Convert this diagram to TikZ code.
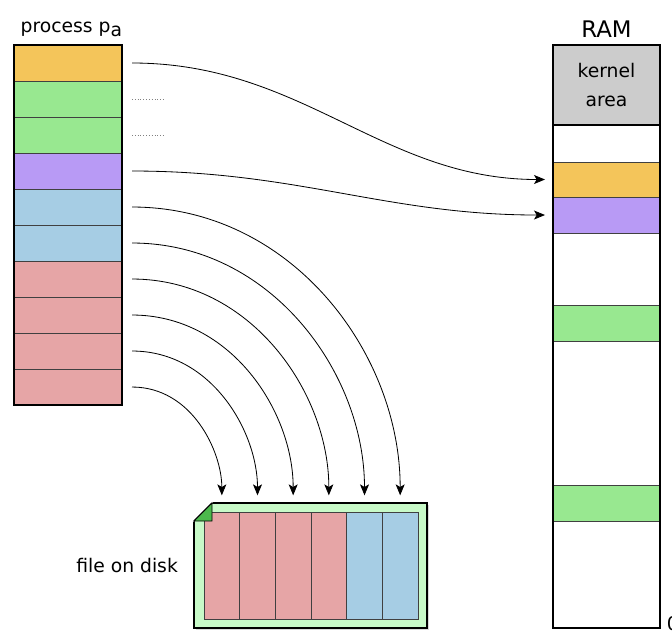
\documentclass[tikz,border=0pt]{standalone}
\usepackage{fontspec}
\setmainfont{DejaVu Sans}
\usepackage{tikz}
\usetikzlibrary{arrows.meta,positioning,fit,shadows}
\tikzset{>=Stealth}

\definecolor{cOrange}{HTML}{F4C55A}
\definecolor{cGreen}{HTML}{98E890}
\definecolor{cPurple}{HTML}{B89AF5}
\definecolor{cBlue}{HTML}{A6CDE4}
\definecolor{cRed}{HTML}{E6A5A6}
\definecolor{cGray}{HTML}{CCCCCC}
\definecolor{cDisk}{HTML}{C8FAC8}
\definecolor{cFold}{HTML}{4CB84C}

\begin{document}
\begin{tikzpicture}[
    x=0.03cm, y=-0.03cm,
    node distance=0pt,
    pcell/.style={rectangle, draw=black!75, line width=0.6pt, minimum width=3.24cm,
        minimum height=1.08cm, inner sep=0pt, outer sep=0pt},
    rcell/.style={rectangle, draw=black!75, line width=0.6pt, minimum width=3.21cm,
        inner sep=0pt, outer sep=0pt},
    fcell/.style={rectangle, draw=black!75, line width=0.6pt, minimum width=1.07cm,
        minimum height=3.21cm, inner sep=0pt, outer sep=0pt},
    colframe/.style={rectangle, draw, line width=1.6pt, inner sep=0pt, outer sep=0pt},
    txt/.style={font=\fontsize{16}{21}\selectfont},
    link/.style={-{Stealth[length=0.33cm, width=0.27cm, inset=0.08cm]}, line width=0.7pt}
]
    \useasboundingbox (0,0) rectangle (672,630);

    % process pages
    \node[pcell, fill=cOrange, anchor=north west] (p1) at (14,45) {};
    \node[pcell, fill=cGreen, below=of p1] (p2) {};
    \node[pcell, fill=cGreen, below=of p2] (p3) {};
    \node[pcell, fill=cPurple, below=of p3] (p4) {};
    \node[pcell, fill=cBlue, below=of p4] (p5) {};
    \node[pcell, fill=cBlue, below=of p5] (p6) {};
    \node[pcell, fill=cRed, below=of p6] (p7) {};
    \node[pcell, fill=cRed, below=of p7] (p8) {};
    \node[pcell, fill=cRed, below=of p8] (p9) {};
    \node[pcell, fill=cRed, below=of p9] (p10) {};
    \node[colframe, fit=(p1)(p10)] (proc) {};
    \node[txt, above=0.12cm of proc, xshift=0.1cm] (proclbl) {process p\raisebox{-0.35ex}{a}};

    % physical memory
    \node[rcell, fill=cGray, minimum height=2.4cm, anchor=north west, align=center, txt]
        (kern) at (553,45) {kernel\\[3pt]area};
    \node[rcell, minimum height=1.11cm, below=of kern] (r1) {};
    \node[rcell, fill=cOrange, minimum height=1.05cm, below=of r1] (r2) {};
    \node[rcell, fill=cPurple, minimum height=1.08cm, below=of r2] (r3) {};
    \node[rcell, minimum height=2.16cm, below=of r3] (r4) {};
    \node[rcell, fill=cGreen, minimum height=1.08cm, below=of r4] (r5) {};
    \node[rcell, minimum height=4.32cm, below=of r5] (r6) {};
    \node[rcell, fill=cGreen, minimum height=1.08cm, below=of r6] (r7) {};
    \node[rcell, minimum height=3.21cm, below=of r7] (r8) {};
    \node[colframe, fit=(kern)(r8)] (ram) {};
    \draw[line width=1.6pt] (kern.south west) -- (kern.south east);
    \node[font=\fontsize{19.5}{22}\selectfont, above=0.1cm of ram] (ramlbl) {RAM};
    \node[txt, anchor=south west, inner sep=0pt] (zero)
        at ([xshift=0.2cm, yshift=-0.1cm]r8.south east) {0};

    % file on disk
    \node[rectangle, draw, line width=1pt, fill=cDisk, minimum width=6.99cm,
        minimum height=3.75cm, inner sep=0pt, outer sep=0pt, anchor=north west,
        drop shadow={shadow xshift=0.06cm, shadow yshift=-0.06cm, fill=black!30}]
        (disk) at (194,503) {};
    \fill[white] (disk.north west) ++(-2,-2) -- ++(22,0) -- ++(-22,22) -- cycle;
    \draw[line width=1pt] (disk.north west) ++(0,18) -- ++(18,-18);
    \node[fcell, fill=cRed, anchor=north west] (f1) at (204,512) {};
    \node[fcell, fill=cRed, right=of f1] (f2) {};
    \node[fcell, fill=cRed, right=of f2] (f3) {};
    \node[fcell, fill=cRed, right=of f3] (f4) {};
    \node[fcell, fill=cBlue, right=of f4] (f5) {};
    \node[fcell, fill=cBlue, right=of f5] (f6) {};
    \filldraw[fill=cFold, line width=0.8pt] (disk.north west) ++(0,18) -- ++(18,-18)
        -- ++(0,18) -- cycle;
    \node[txt, left=0.36cm of disk] (disklbl) {file on disk};

    % mappings
    \draw[link, shorten >=0.24cm] ([xshift=0.3cm]p1.east) to[out=0, in=180] (r2.west);
    \draw[link, shorten >=0.24cm] ([xshift=0.3cm]p4.east) to[out=0, in=180] (r3.west);
    \draw[link, shorten >=0.5cm] ([xshift=0.3cm]p5.east) to[out=0, in=90] (f6.north);
    \draw[link, shorten >=0.5cm] ([xshift=0.3cm]p6.east) to[out=0, in=90] (f5.north);
    \draw[link, shorten >=0.5cm] ([xshift=0.3cm]p7.east) to[out=0, in=90] (f4.north);
    \draw[link, shorten >=0.5cm] ([xshift=0.3cm]p8.east) to[out=0, in=90] (f3.north);
    \draw[link, shorten >=0.5cm] ([xshift=0.3cm]p9.east) to[out=0, in=90] (f2.north);
    \draw[link, shorten >=0.5cm] ([xshift=0.3cm]p10.east) to[out=0, in=90] (f1.north);
    \draw[dotted, gray] ([xshift=0.3cm]p2.east) -- ++(33,0);
    \draw[dotted, gray] ([xshift=0.3cm]p3.east) -- ++(33,0);
\end{tikzpicture}
\end{document}
